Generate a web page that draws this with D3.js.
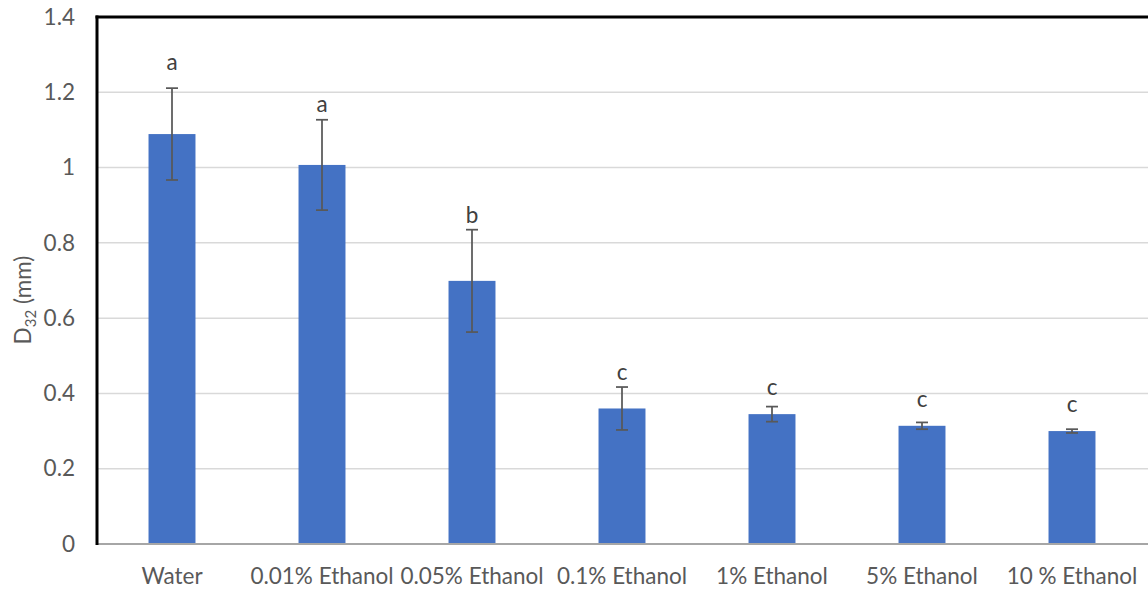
<!DOCTYPE html>
<html>
<head>
<meta charset="utf-8">
<script src="https://cdn.jsdelivr.net/npm/d3@7"></script>
<style>
  html, body { margin: 0; padding: 0; background: #fff; }
  svg { display: block; font-family: Lato, "Open Sans", sans-serif; }
</style>
</head>
<body>
<svg id="chart" width="1148" height="592"></svg>
<script>
// Treatments and measured Sauter mean diameter (D32, mm)
const categories = ["Water", "0.01% Ethanol", "0.05% Ethanol", "0.1% Ethanol", "1% Ethanol", "5% Ethanol", "10 % Ethanol"];
const meanD32 = [1.089, 1.007, 0.699, 0.360, 0.345, 0.314, 0.300];
const sdD32 = [0.122, 0.120, 0.136, 0.057, 0.020, 0.009, 0.005];
const groupLetters = ["a", "a", "b", "c", "c", "c", "c"];
const yTicks = [0, 0.2, 0.4, 0.6, 0.8, 1, 1.2, 1.4];

// Layout
const plot = { left: 97, right: 1147, top: 17, bottom: 544 };
const barFrac = 0.313;
const fontSize = 22.5;
const letterGap = [18, 8, 7, 7, 12, 15, 17]; // px between whisker top and letter baseline

const svg = d3.select("#chart");

const x = d3.scaleBand().domain(categories).range([plot.left, plot.right]).padding(0);
const y = d3.scaleLinear().domain([0, 1.4]).range([plot.bottom, plot.top]);

const rows = categories.map((c, i) => ({ c, m: meanD32[i], s: sdD32[i], l: groupLetters[i], g: letterGap[i] }));

// Horizontal gridlines
svg.append("g")
  .selectAll("line")
  .data(yTicks.filter(t => t > 0 && t < 1.4))
  .join("line")
  .attr("x1", plot.left).attr("x2", plot.right + 1)
  .attr("y1", d => y(d)).attr("y2", d => y(d))
  .attr("stroke", "#d9d9d9").attr("stroke-width", 1.5);

// Y axis tick labels
const yAxis = d3.axisLeft(y).tickValues(yTicks).tickSize(0).tickPadding(22)
  .tickFormat(d => d3.format("")(+d.toFixed(1)));
svg.append("g")
  .attr("transform", `translate(${plot.left},0)`)
  .call(yAxis)
  .call(g => g.select(".domain").remove())
  .call(g => g.selectAll("text")
    .attr("fill", "#595959").attr("font-size", fontSize)
    .attr("font-family", "Lato, 'Open Sans', sans-serif"));

// Bars
const bw = x.bandwidth() * barFrac;
svg.append("g")
  .selectAll("rect")
  .data(rows)
  .join("rect")
  .attr("x", d => x(d.c) + (x.bandwidth() - bw) / 2)
  .attr("width", bw)
  .attr("y", d => y(d.m))
  .attr("height", d => y(0) - y(d.m))
  .attr("fill", "#4472c4");

// Error bars (mean ± SD)
const cap = 6;
const eb = svg.append("g").attr("stroke", "#595959").attr("stroke-width", 1.75);
rows.forEach(d => {
  const cx = x(d.c) + x.bandwidth() / 2;
  eb.append("line").attr("x1", cx).attr("x2", cx).attr("y1", y(d.m + d.s)).attr("y2", y(d.m - d.s));
  eb.append("line").attr("x1", cx - cap).attr("x2", cx + cap).attr("y1", y(d.m + d.s)).attr("y2", y(d.m + d.s));
  eb.append("line").attr("x1", cx - cap).attr("x2", cx + cap).attr("y1", y(d.m - d.s)).attr("y2", y(d.m - d.s));
});

// Significance letters
svg.append("g")
  .selectAll("text")
  .data(rows)
  .join("text")
  .attr("x", d => x(d.c) + x.bandwidth() / 2)
  .attr("y", d => y(d.m + d.s) - d.g)
  .attr("text-anchor", "middle")
  .attr("font-size", fontSize)
  .attr("fill", "#404040")
  .text(d => d.l);

// Zero baseline
svg.append("line")
  .attr("x1", plot.left).attr("x2", plot.right + 1)
  .attr("y1", y(0)).attr("y2", y(0))
  .attr("stroke", "#a6a6a6").attr("stroke-width", 2);

// Frame: left and top borders
svg.append("line")
  .attr("x1", plot.left).attr("x2", plot.left)
  .attr("y1", plot.top - 1.5).attr("y2", plot.bottom + 1)
  .attr("stroke", "#000").attr("stroke-width", 3);
svg.append("line")
  .attr("x1", plot.left - 1.5).attr("x2", plot.right + 1)
  .attr("y1", plot.top).attr("y2", plot.top)
  .attr("stroke", "#000").attr("stroke-width", 3);

// X category labels
svg.append("g")
  .selectAll("text")
  .data(categories)
  .join("text")
  .attr("x", d => x(d) + x.bandwidth() / 2)
  .attr("y", 584)
  .attr("text-anchor", "middle")
  .attr("font-size", fontSize)
  .attr("fill", "#595959")
  .text(d => d);

// Y axis title: D32 (mm) with subscript
const yt = svg.append("text")
  .attr("transform", "translate(31,300) rotate(-90)")
  .attr("text-anchor", "middle")
  .attr("font-size", fontSize)
  .attr("fill", "#595959");
yt.append("tspan").text("D");
yt.append("tspan").attr("font-size", 15).attr("dy", 5).text("32");
yt.append("tspan").attr("dy", -5).text(" (mm)");
</script>
</body>
</html>
